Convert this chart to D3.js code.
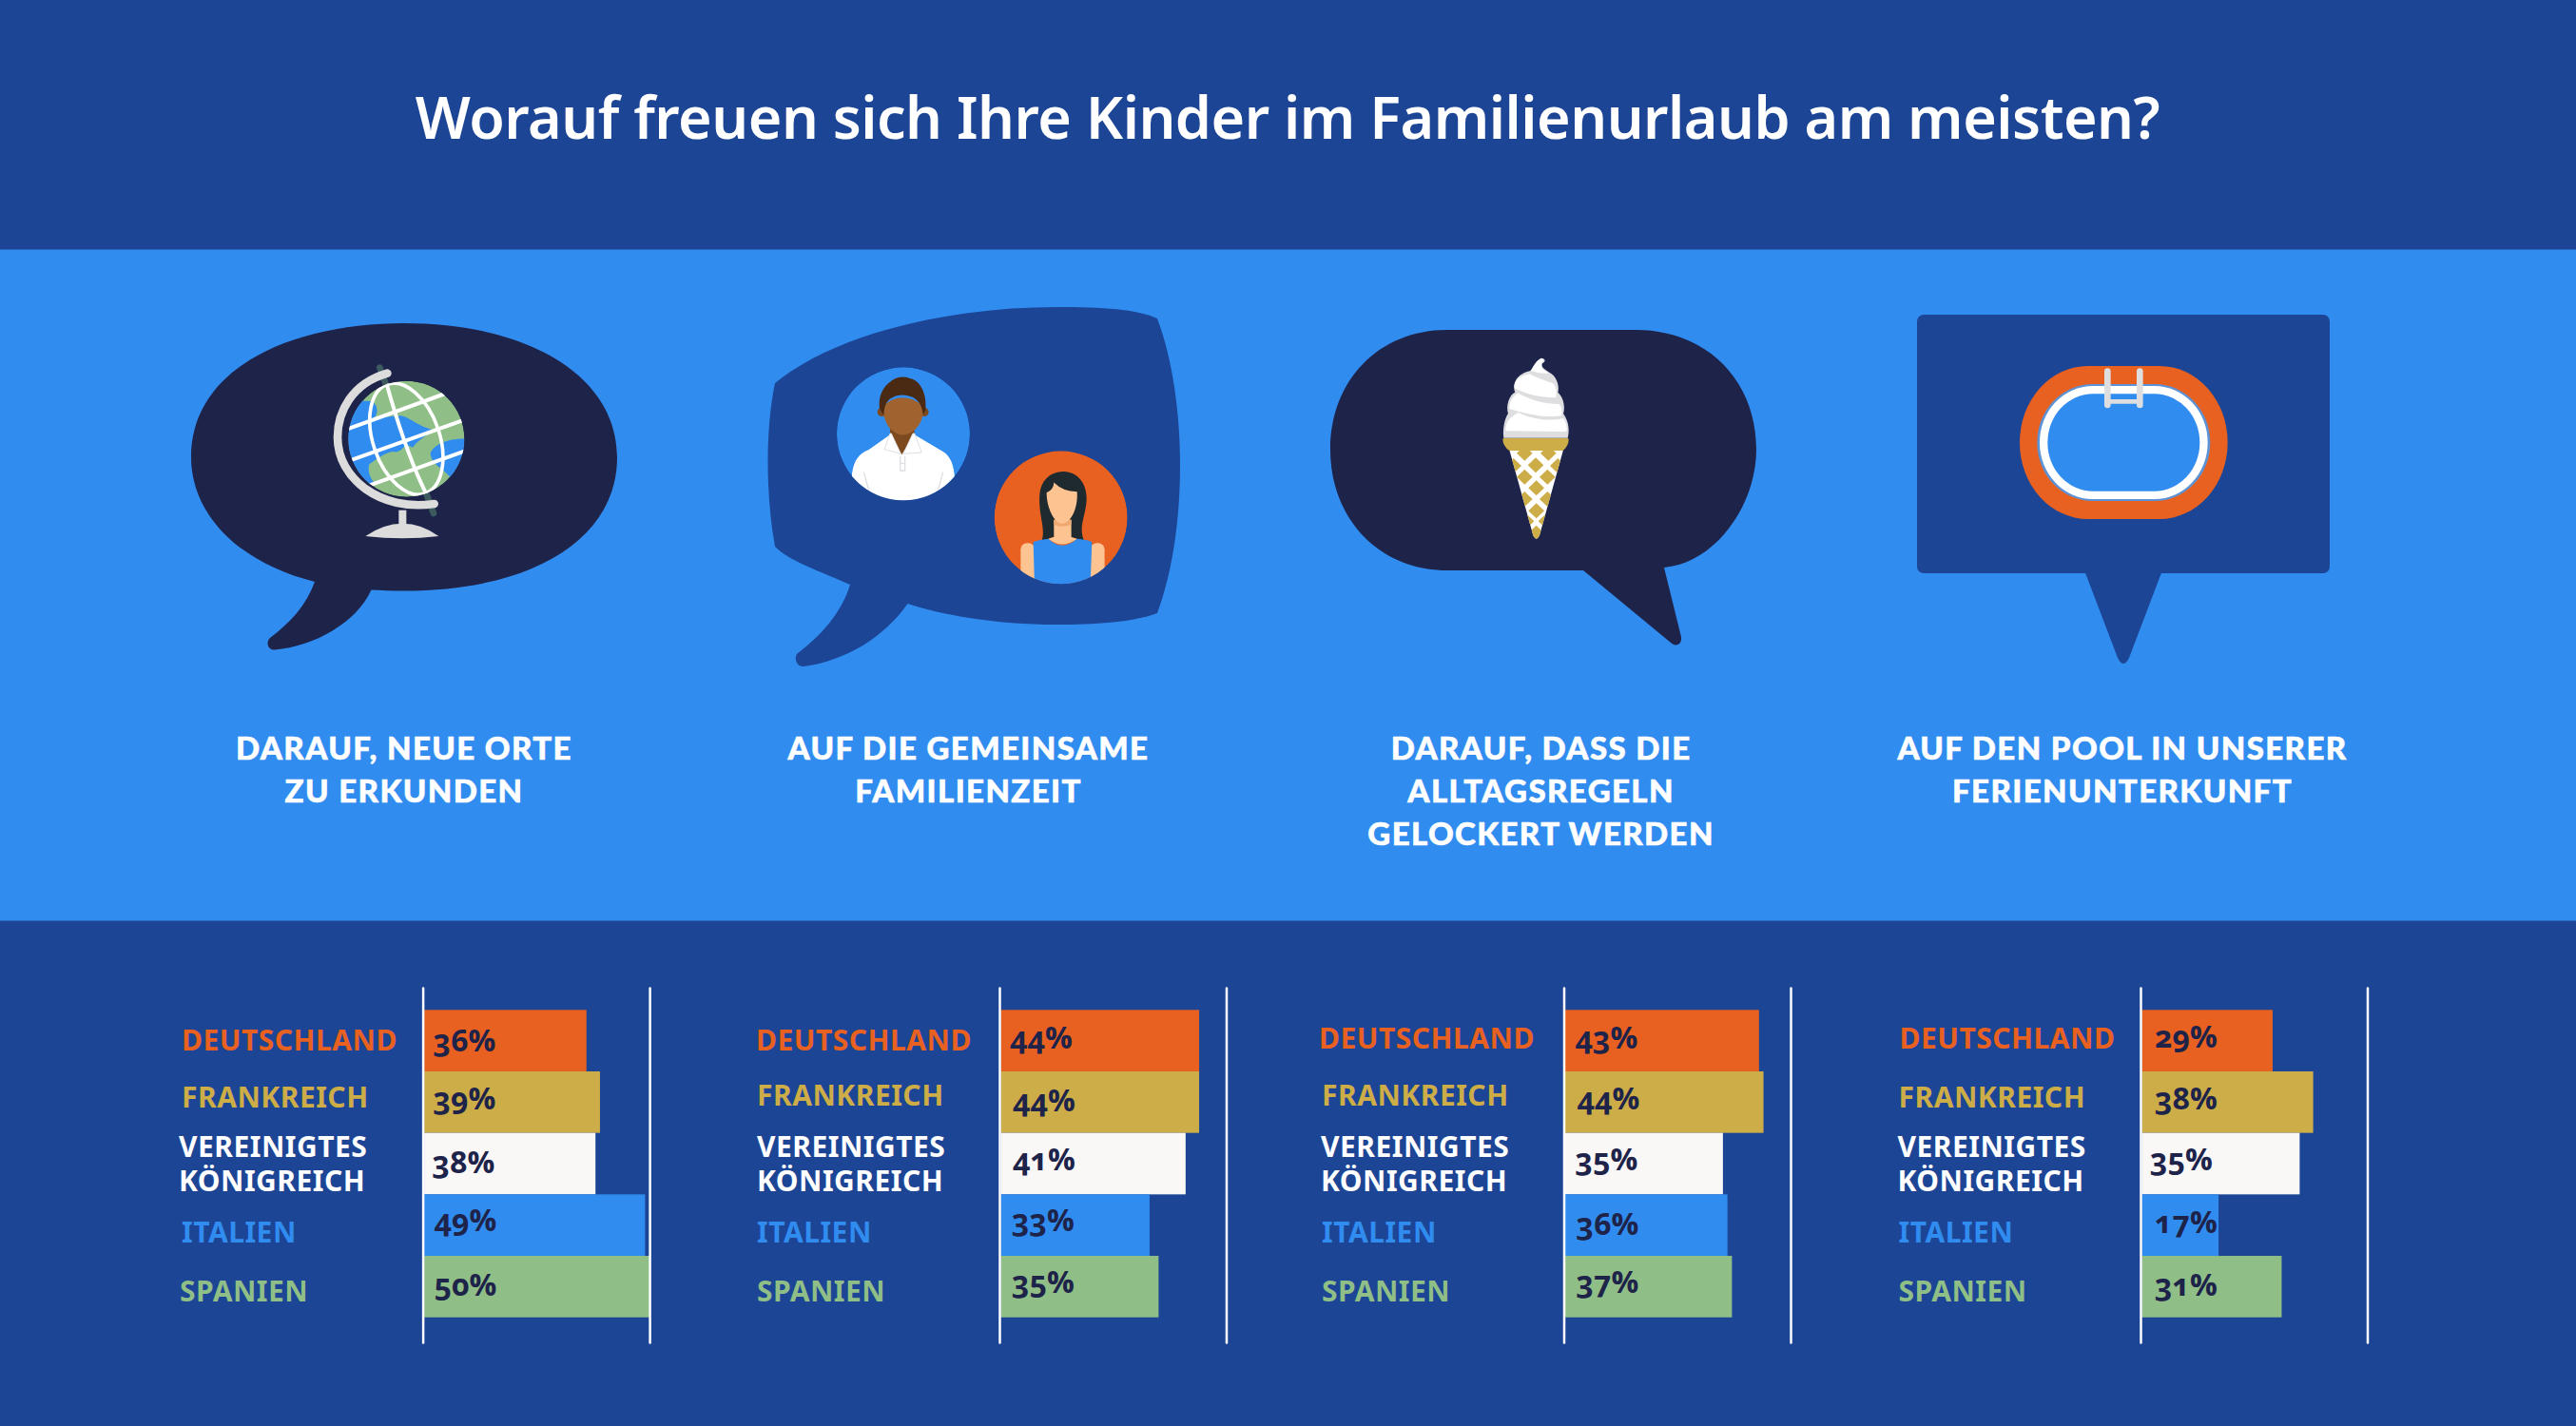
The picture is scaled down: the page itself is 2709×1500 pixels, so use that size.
<!DOCTYPE html>
<html>
<head>
<meta charset="utf-8">
<title>Familienurlaub</title>
<script src="https://d3js.org/d3.v7.min.js"></script>
<style>
  html, body {margin:0; padding:0; background:#1c4595;}
  svg {display:block;}
  .title {font-family:"Noto Sans"; font-weight:600; font-size:61px; fill:#fff; letter-spacing:-0.5px;}
  .caption {font-family:Lato; font-weight:900; font-size:33px; fill:#fff; stroke:#fff; stroke-width:0.6px; letter-spacing:1.4px;}
  .country {font-family:"Noto Sans"; font-weight:700; font-size:30px; letter-spacing:0.5px;}
  .pct {font-family:"Open Sans"; font-weight:700; font-size:32px; fill:#1e2349; font-feature-settings:"onum" 1;}
</style>
</head>
<body>
<svg id="chart" width="2709" height="1500"></svg>
<script>
// data
var titleText = 'Worauf freuen sich Ihre Kinder im Familienurlaub am meisten?';
var countries = ['DEUTSCHLAND', 'FRANKREICH', 'VEREINIGTES KÖNIGREICH', 'ITALIEN', 'SPANIEN'];
var neueOrte = [36, 39, 38, 49, 50];
var familienzeit = [44, 44, 41, 33, 35];
var alltagsregeln = [43, 44, 35, 36, 37];
var pool = [29, 38, 35, 17, 31];
var captionOrte = ['DARAUF, NEUE ORTE', 'ZU ERKUNDEN'];
var captionZeit = ['AUF DIE GEMEINSAME', 'FAMILIENZEIT'];
var captionRegeln = ['DARAUF, DASS DIE', 'ALLTAGSREGELN', 'GELOCKERT WERDEN'];
var captionPool = ['AUF DEN POOL IN UNSERER', 'FERIENUNTERKUNFT'];

// colours
var dark = '#1c4595', mid = '#318cf0', navy = '#1e2349';
var orange = '#e86121', gold = '#cdad48', offwhite = '#f9f8f7', green = '#8fbf87';
var barColors = d3.scaleOrdinal().domain(countries).range([orange, gold, offwhite, mid, green]);
var labelColors = d3.scaleOrdinal().domain(countries).range([orange, gold, '#ffffff', mid, green]);

// layout of the four panels, the picture was hand placed so small offsets stay
var panels = [
  {values: neueOrte, caption: captionOrte, capX: 425, axisX: 444.6, labelX: 191,
    labelDy: [10, 6, 0, 18, 16], labelDx: [0, 0, -3, 0, -2],
    pctDx: [11, 11, 10, 12, 12], pctDy: [11.4, 7.7, 10, 6.3, 9.3]},
  {values: familienzeit, caption: captionZeit, capX: 1018.5, axisX: 1051, labelX: 796,
    labelDy: [10, 4, 0, 18, 16], labelDx: [-1, 0, 0, 0, 0],
    pctDx: [11, 14, 14, 13, 13], pctDy: [8.7, 9.7, 7, 6.3, 6.6]},
  {values: alltagsregeln, caption: captionRegeln, capX: 1620.6, axisX: 1644.5, labelX: 1390,
    labelDy: [8, 4, 0, 18, 16], labelDx: [-3, 0, -1, 0, 0],
    pctDx: [12, 14, 12, 13, 13], pctDy: [8.7, 7.7, 7, 10.3, 6.6]},
  {values: pool, caption: captionPool, capX: 2232, axisX: 2251, labelX: 1996.5,
    labelDy: [8, 6, 0, 18, 16], labelDx: [1, 0, -1, 0, 0],
    pctDx: [15, 15, 10, 15, 15], pctDy: [7.4, 7.7, 7, 8.3, 9.6]}
];

var svg = d3.select('#chart');
svg.append('rect').attr('width', 2709).attr('height', 1500).attr('fill', dark);
svg.append('rect').attr('y', 262.5).attr('width', 2709).attr('height', 706).attr('fill', mid);

svg.append('text').attr('class', 'title').attr('x', 1354).attr('y', 146)
  .attr('text-anchor', 'middle').text(titleText);

// ---- speech bubbles ----
var defs = svg.append('defs');
function clipCircle(id, cx, cy, r) {
  defs.append('clipPath').attr('id', id).append('circle').attr('cx', cx).attr('cy', cy).attr('r', r);
}
function p(g, d, fill) { return g.append('path').attr('d', d).attr('fill', fill); }

// bubble 1
p(svg, 'M201 481 C201 385 310 340 425 340 C555 340 649 395 649 481 C649 567 560 621.5 425 621.5 C412 621.5 400 621 390.5 620.5 ' +
  'C375 655 330 680 289 683.5 C282 684 279 676 284 671 C305 655 322 637 331 612 C250 592 201 540 201 481 Z', navy);

// globe, coordinates in 3x px of the crop
var globe = svg.append('g').attr('transform', 'translate(330,360) scale(0.3333)');
clipCircle('globeClip', 292, 305, 183);
globe.append('line').attr('x1', 208).attr('y1', 80).attr('x2', 378).attr('y2', 540)
  .attr('stroke', '#3d5a5f').attr('stroke-width', 20).attr('stroke-linecap', 'round');
var ball = globe.append('g').attr('clip-path', 'url(#globeClip)');
ball.append('circle').attr('cx', 292).attr('cy', 305).attr('r', 183).attr('fill', green);
p(ball, 'M170 185 C200 185 208 220 190 240 L270 232 C300 232 320 262 372 275 C355 300 330 305 312 332 L290 322 ' +
  'C280 340 265 350 250 345 C220 350 200 368 175 385 C168 410 180 430 192 445 L60 445 L60 185 Z', mid);
p(ball, 'M368 350 C380 320 430 300 490 305 L490 470 L430 425 C405 395 370 385 368 350 Z', mid);
var gridLines = ['M100 276 L415 162', 'M110 375 L480 243', 'M175 452 L480 342', 'M228 125 C260 240 300 370 358 485'];
gridLines.forEach(function(d) {
  ball.append('path').attr('d', d).attr('fill', 'none').attr('stroke', '#fff').attr('stroke-width', 12);
});
ball.append('ellipse').attr('cx', 292).attr('cy', 305).attr('rx', 105).attr('ry', 182)
  .attr('transform', 'rotate(-19 292 305)').attr('fill', 'none').attr('stroke', '#fff').attr('stroke-width', 11);
globe.append('path').attr('d', 'M232 98 C120 130 75 220 75 300 C75 430 210 535 380 510').attr('fill', 'none')
  .attr('stroke', '#dcdcdd').attr('stroke-width', 26).attr('stroke-linecap', 'round');
globe.append('rect').attr('x', 268).attr('y', 530).attr('width', 24).attr('height', 55).attr('fill', '#dcdcdd');
p(globe, 'M163 612 Q220 572 280 572 Q340 572 394 612 Q280 626 163 612 Z', '#dcdcdd');

// bubble 2
p(svg, 'M815 403 C880 350 1000 323 1111 323 C1160 323 1195 325 1217 335 C1249 420 1249 560 1217 645 C1190 655 1150 657 1111 657 ' +
  'C1060 657 1000 650 954.5 635 C930 670 890 695 845 701 C838 702 834 692 839 687 C862 670 885 645 894 615 C860 600 830 590 815 575 C805 520 805 450 815 403 Z', dark);

// people, coordinates in 3x px of the crop
var people = svg.append('g').attr('transform', 'translate(860,370) scale(0.3333)');
clipCircle('manClip', 270, 259, 210);
clipCircle('womanClip', 767, 523, 210);
var man = people.append('g').attr('clip-path', 'url(#manClip)');
man.append('circle').attr('cx', 270).attr('cy', 259).attr('r', 210).attr('fill', mid);
p(man, 'M108 385 C115 340 130 322 160 310 L228 262 L265 320 L305 262 L395 315 C420 330 430 360 432 400 L432 490 L108 490 Z', '#fff');
p(man, 'M228 235 L228 262 L265 325 L305 262 L305 235 Z', '#7d4a20');
p(man, 'M228 258 L210 308 L262 322 L232 258 Z', '#fff').attr('stroke', '#dedfe2').attr('stroke-width', 3);
p(man, 'M305 258 L328 318 L270 322 L300 258 Z', '#fff').attr('stroke', '#dedfe2').attr('stroke-width', 3);
p(man, 'M145 380 L162 440 M395 380 L380 435 M260 330 L260 375 L275 375 L275 330 M260 352 L275 352', 'none')
  .attr('stroke', '#dedfe2').attr('stroke-width', 4);
man.append('circle').attr('cx', 202).attr('cy', 190).attr('r', 14).attr('fill', '#7d4a20');
man.append('circle').attr('cx', 336).attr('cy', 190).attr('r', 14).attr('fill', '#7d4a20');
p(man, 'M208 170 Q265 120 332 170 L332 195 C328 235 295 262 268 262 C242 262 212 235 208 195 Z', '#a0632f');
p(man, 'M195 180 C190 140 205 110 232 92 C250 80 270 76 290 84 C325 90 345 135 340 185 L332 198 C330 170 315 145 290 140 C270 135 250 135 235 145 C218 152 210 170 208 200 Z', '#4a2a12');

var woman = people.append('g').attr('clip-path', 'url(#womanClip)');
woman.append('circle').attr('cx', 767).attr('cy', 523).attr('r', 210).attr('fill', orange);
p(woman, 'M705 600 C722 560 695 520 700 450 C705 395 745 378 775 378 C815 378 850 410 848 470 C845 520 820 555 842 600 L800 585 L740 585 Z', '#1f2a2f');
woman.append('rect').attr('x', 640).attr('y', 604).attr('width', 45).attr('height', 140).attr('rx', 20).attr('fill', '#fdc391');
woman.append('rect').attr('x', 860).attr('y', 604).attr('width', 45).attr('height', 140).attr('rx', 20).attr('fill', '#fdc391');
p(woman, 'M680 600 Q700 592 728 590 Q770 632 818 590 Q848 592 865 600 L860 740 L684 740 Z', mid);
p(woman, 'M745 530 L800 530 L800 585 L818 590 Q770 625 728 590 L745 585 Z', '#fdc391');
p(woman, 'M745 530 L800 530 L800 545 Q770 558 745 545 Z', '#f0a871');
p(woman, 'M722 445 Q745 435 745 412 Q770 440 818 442 C822 490 800 542 770 542 C745 542 722 490 722 445 Z', '#fdc391');

// bubble 3
p(svg, 'M1399 473 C1399 400 1450 347 1522 347 L1720 347 C1795 347 1847 400 1847 473 C1847 530 1805 592 1750 597 L1768 670 ' +
  'C1769 678 1762 681 1757 676 L1665 600 L1522 600 C1450 600 1399 545 1399 473 Z', navy);

// ice cream, coordinates in 3x px of the crop
var ice = svg.append('g').attr('transform', 'translate(1550,360) scale(0.3333)');
defs.append('clipPath').attr('id', 'coneClip').append('path').attr('d', 'M112 340 L282 340 L207 610 Q197 630 187 610 Z');
p(ice, 'M112 340 L282 340 L207 610 Q197 630 187 610 Z', '#fff');
var cone = ice.append('g').attr('clip-path', 'url(#coneClip)');
var diamonds = [[160,350],[235,350],[125,390],[195,388],[265,390],[160,425],[232,425],[197,460],[160,495],[232,495],[197,532],[165,565],[228,565],[197,602]];
diamonds.forEach(function(c) {
  p(cone, 'M' + c[0] + ' ' + (c[1] - 24) + ' L' + (c[0] + 25) + ' ' + c[1] + ' L' + c[0] + ' ' + (c[1] + 24) + ' L' + (c[0] - 25) + ' ' + c[1] + ' Z', gold);
});
p(ice, 'M92 303 L298 303 C302 320 288 338 280 342 L112 342 C104 338 88 320 92 303 Z', gold);
p(ice, 'M178 90 C190 75 195 58 212 50 C226 50 228 62 216 66 C210 80 226 86 245 100 C265 115 270 145 265 158 C285 175 288 210 282 225 C300 250 302 280 296 302 L94 302 C90 270 98 240 108 225 C100 200 112 165 130 158 C120 130 135 100 178 90 Z', '#dedee0');
p(ice, 'M100 280 C100 250 115 235 140 222 C190 245 240 250 282 240 C292 255 295 270 292 282 Z', '#fff');
p(ice, 'M112 210 C112 185 125 170 140 160 C180 185 225 195 268 195 C278 205 280 220 276 232 C220 240 160 225 112 210 Z', '#fff');
p(ice, 'M128 145 C125 125 140 108 175 100 C205 115 235 125 250 130 C262 140 262 165 258 175 C210 175 165 165 128 145 Z', '#fff');
p(ice, 'M180 90 C190 75 197 58 212 52 C222 52 222 60 214 66 C208 80 220 88 236 98 C215 100 195 95 180 90 Z', '#fff');

// bubble 4
svg.append('rect').attr('x', 2016).attr('y', 331).attr('width', 434).attr('height', 272).attr('rx', 7).attr('fill', dark);
p(svg, 'M2192 600 L2227 692 Q2233 704 2239 692 L2274 600 Z', dark);

// pool, coordinates in 3x px of the crop
var poolIcon = svg.append('g').attr('transform', 'translate(2100,370) scale(0.3333)');
poolIcon.append('rect').attr('x', 72).attr('y', 45).attr('width', 656).attr('height', 483).attr('rx', 215).attr('ry', 241).attr('fill', orange);
poolIcon.append('rect').attr('x', 127).attr('y', 102).attr('width', 546).attr('height', 369).attr('rx', 175).attr('ry', 184).attr('fill', '#5c93d6');
poolIcon.append('rect').attr('x', 135).attr('y', 108).attr('width', 530).attr('height', 357).attr('rx', 168).attr('ry', 178).attr('fill', '#fff');
poolIcon.append('rect').attr('x', 160).attr('y', 133).attr('width', 480).attr('height', 307).attr('rx', 143).attr('ry', 153).attr('fill', mid);
['M349 62 L349 168', 'M451 62 L451 168', 'M349 157 L451 157'].forEach(function(d, i) {
  poolIcon.append('path').attr('d', d).attr('fill', 'none').attr('stroke', '#dedee0')
    .attr('stroke-width', i < 2 ? 20 : 14).attr('stroke-linecap', 'round');
});

// ---- captions ----
panels.forEach(function(pn) {
  svg.append('g').selectAll('text').data(pn.caption).join('text')
    .attr('class', 'caption')
    .attr('x', pn.capX)
    .attr('y', function(d, i) { return 799 + i * 45; })
    .attr('text-anchor', 'middle')
    .text(function(d) { return d; });
});

// ---- bar panels ----
var y = d3.scaleBand().domain(countries).range([1062.3, 1385.7]).padding(0);
var axisY = d3.scaleLinear().domain([0, 1]).range([1039, 1412]);

panels.forEach(function(pn) {
  var rows = countries.map(function(c, i) { return {country: c, value: pn.values[i], i: i}; });
  var x = d3.scaleLinear().domain([0, 50]).range([pn.axisX + 1.5, pn.axisX + 238.5]);
  var g = svg.append('g');

  g.selectAll('rect').data(rows).join('rect')
    .attr('x', x(0))
    .attr('y', function(d) { return y(d.country); })
    .attr('width', function(d) { return x(d.value) - x(0); })
    .attr('height', y.bandwidth())
    .attr('fill', function(d) { return barColors(d.country); });

  [pn.axisX, x(50)].forEach(function(ax) {
    var a = g.append('g').attr('transform', 'translate(' + ax + ',0)')
      .call(d3.axisLeft(axisY).tickValues([]).tickSizeOuter(0));
    a.select('.domain').attr('stroke', '#fff').attr('stroke-width', 2.5).attr('stroke-linecap', 'round');
  });

  g.selectAll('text.pct').data(rows).join('text')
    .attr('class', 'pct')
    .attr('x', function(d) { return pn.axisX + pn.pctDx[d.i]; })
    .attr('y', function(d) { return y(d.country) + y.bandwidth() / 2 + pn.pctDy[d.i]; })
    .text(function(d) { return d.value + '%'; });

  rows.forEach(function(d) {
    var parts = d.country.split(' ');
    var base = y(d.country) + y.bandwidth() / 2 + pn.labelDy[d.i];
    parts.forEach(function(line, k) {
      g.append('text').attr('class', 'country')
        .attr('x', pn.labelX + pn.labelDx[d.i])
        .attr('y', parts.length > 1 ? base - 7 + k * 36 : base)
        .attr('fill', labelColors(d.country))
        .text(line);
    });
  });
});
</script>
</body>
</html>
